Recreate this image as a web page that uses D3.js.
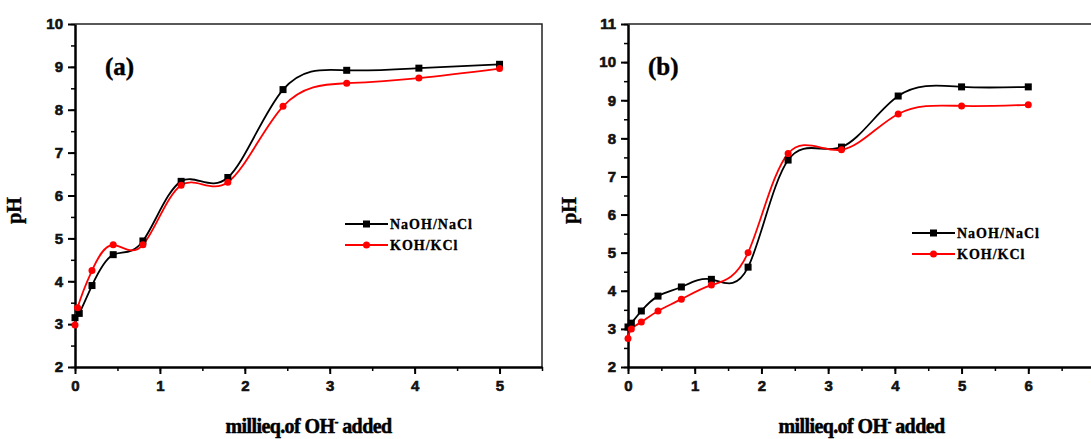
<!DOCTYPE html>
<html>
<head>
<meta charset="utf-8">
<script src="https://cdn.jsdelivr.net/npm/d3@7"></script>
<style>
  body { margin: 0; background: #fff; }
  svg { display: block; }
</style>
</head>
<body>
<div id="chart"></div>
<script>
// Data
var seriesNames = ["NaOH/NaCl", "KOH/KCl"];

// panel (a)
var aNaX = [0, 0.05, 0.2, 0.45, 0.8, 1.25, 1.8, 2.45, 3.2, 4.05, 5.0];
var aNaY = [3.15, 3.25, 3.9, 4.62, 4.94, 6.33, 6.42, 8.47, 8.92, 8.97, 9.06];
var aKX  = [0, 0.03, 0.2, 0.45, 0.8, 1.25, 1.8, 2.45, 3.2, 4.05, 5.0];
var aKY  = [2.98, 3.38, 4.25, 4.85, 4.85, 6.24, 6.31, 8.08, 8.62, 8.74, 8.96];

// panel (b)
var bNaX = [0, 0.05, 0.2, 0.45, 0.8, 1.25, 1.8, 2.4, 3.2, 4.05, 5.0, 6.0];
var bNaY = [3.05, 3.15, 3.47, 3.86, 4.1, 4.3, 4.62, 7.43, 7.77, 9.11, 9.35, 9.35];
var bKX  = [0, 0.05, 0.2, 0.45, 0.8, 1.25, 1.8, 2.4, 3.2, 4.05, 5.0, 6.0];
var bKY  = [2.75, 3.0, 3.18, 3.47, 3.78, 4.15, 5.0, 7.6, 7.7, 8.64, 8.85, 8.88];

var xTicksA = [0, 1, 2, 3, 4, 5];
var yTicksA = [2, 3, 4, 5, 6, 7, 8, 9, 10];
var xTicksB = [0, 1, 2, 3, 4, 5, 6, 7];
var yTicksB = [2, 3, 4, 5, 6, 7, 8, 9, 10, 11];

var svg = d3.select("#chart").append("svg")
  .attr("width", 1091)
  .attr("height", 439);

function zip(xs, ys) {
  return xs.map(function(x, i) { return {x: x, y: ys[i]}; });
}

var serif = "'Liberation Serif', 'Times New Roman', serif";

function drawPanel(p) {
  var g = svg.append("g").attr("transform", "translate(" + p.left + "," + p.top + ")");
  var width = p.width, height = p.height;

  var x = d3.scaleLinear().domain(p.xDomain).range([0, width]);
  var y = d3.scaleLinear().domain(p.yDomain).range([height, 0]);

  // frame (top and right)
  g.append("path")
    .attr("d", "M0,0H" + width + "V" + height)
    .attr("fill", "none").attr("stroke", "#222").attr("stroke-width", 1.5);

  // minor ticks
  var xMinor = d3.range(p.xDomain[0], p.xDomain[1] + 0.01, 0.5);
  var yMinor = d3.range(p.yDomain[0], p.yDomain[1] + 0.01, 0.5);
  g.append("g").attr("transform", "translate(0," + height + ")")
    .call(d3.axisBottom(x).tickValues(xMinor).tickSize(4).tickFormat(""))
    .call(function(a) { a.select(".domain").remove(); a.selectAll("line").attr("stroke-width", 1.5); });
  g.append("g")
    .call(d3.axisLeft(y).tickValues(yMinor).tickSize(4).tickFormat(""))
    .call(function(a) { a.select(".domain").remove(); a.selectAll("line").attr("stroke-width", 1.5); });

  // major axes
  var xAxis = g.append("g").attr("transform", "translate(0," + height + ")")
    .call(d3.axisBottom(x).tickValues(p.xTicks).tickSize(7).tickSizeOuter(0).tickPadding(6).tickFormat(d3.format("d")));
  var yAxis = g.append("g")
    .call(d3.axisLeft(y).tickValues(p.yTicks).tickSize(7).tickSizeOuter(0).tickPadding(5).tickFormat(d3.format("d")));
  [xAxis, yAxis].forEach(function(a) {
    a.select(".domain").attr("stroke-width", 2.5);
    a.selectAll("line").attr("stroke-width", 2);
    a.selectAll("text")
      .attr("font-family", "'Liberation Sans', Arial, sans-serif")
      .attr("font-weight", "bold")
      .attr("font-size", "15px")
      .attr("fill", "#111")
      .attr("stroke", "#111")
      .attr("stroke-width", 0.6);
  });

  // axis titles
  var xt = g.append("text")
    .attr("x", width / 2).attr("y", height + 66)
    .attr("text-anchor", "middle")
    .attr("font-family", serif)
    .attr("font-weight", "bold").attr("font-size", "20px")
    .attr("letter-spacing", "-0.6px")
    .attr("stroke", "#000").attr("stroke-width", 0.5)
    .text("millieq.of OH");
  xt.append("tspan").attr("dy", "-7px").attr("font-size", "12px").text("-");
  xt.append("tspan").attr("dy", "7px").text(" added");

  g.append("text")
    .attr("transform", "translate(" + p.yLabelX + "," + (height / 2 + 15) + ") rotate(-90)")
    .attr("text-anchor", "middle")
    .attr("font-family", serif)
    .attr("font-weight", "bold").attr("font-size", "20px")
    .attr("stroke", "#000").attr("stroke-width", 0.4)
    .text("pH");

  // panel letter
  g.append("text")
    .attr("x", p.letterX).attr("y", 51)
    .attr("font-family", serif)
    .attr("font-weight", "bold").attr("font-size", "25px")
    .attr("stroke", "#000").attr("stroke-width", 0.4)
    .text(p.letter);

  var line = d3.line()
    .curve(d3.curveNatural)
    .x(function(d) { return x(d.x); })
    .y(function(d) { return y(d.y); });

  var colors = ["#000", "#ff0000"];
  p.series.forEach(function(s, i) {
    g.append("path").datum(s)
      .attr("d", line)
      .attr("fill", "none")
      .attr("stroke", colors[i])
      .attr("stroke-width", 1.8);
  });
  p.series.forEach(function(s, i) {
    if (i === 0) {
      g.append("g").selectAll("rect").data(s).enter().append("rect")
        .attr("x", function(d) { return x(d.x) - 3.5; })
        .attr("y", function(d) { return y(d.y) - 3.5; })
        .attr("width", 7).attr("height", 7)
        .attr("fill", "#000");
    } else {
      g.append("g").selectAll("circle").data(s).enter().append("circle")
        .attr("cx", function(d) { return x(d.x); })
        .attr("cy", function(d) { return y(d.y); })
        .attr("r", 3.5)
        .attr("fill", "#ff0000");
    }
  });

  // legend
  var lg = g.append("g").attr("transform", "translate(" + p.legendX + "," + p.legendY + ")");
  seriesNames.forEach(function(name, i) {
    var row = lg.append("g").attr("transform", "translate(0," + (i * 21) + ")");
    row.append("line").attr("x1", 0).attr("x2", 43)
      .attr("stroke", colors[i]).attr("stroke-width", 1.8);
    if (i === 0) {
      row.append("rect").attr("x", 18).attr("y", -3.5).attr("width", 7).attr("height", 7).attr("fill", "#000");
    } else {
      row.append("circle").attr("cx", 21.5).attr("cy", 0).attr("r", 3.5).attr("fill", "#ff0000");
    }
    row.append("text").attr("x", 45).attr("y", 5)
      .attr("font-family", serif)
      .attr("font-weight", "bold").attr("font-size", "14px")
      .attr("letter-spacing", "1px")
      .attr("stroke", "#000").attr("stroke-width", 0.3)
      .text(name);
  });
}

drawPanel({
  left: 75, top: 24, width: 467, height: 343,
  xDomain: [0, 5.5], yDomain: [2, 10],
  xTicks: xTicksA, yTicks: yTicksA,
  series: [zip(aNaX, aNaY), zip(aKX, aKY)],
  letter: "(a)", letterX: 30, yLabelX: -54,
  legendX: 270, legendY: 200
});

drawPanel({
  left: 628, top: 24, width: 467, height: 343,
  xDomain: [0, 7], yDomain: [2, 11],
  xTicks: xTicksB, yTicks: yTicksB,
  series: [zip(bNaX, bNaY), zip(bKX, bKY)],
  letter: "(b)", letterX: 20, yLabelX: -52,
  legendX: 284, legendY: 209
});
</script>
</body>
</html>
